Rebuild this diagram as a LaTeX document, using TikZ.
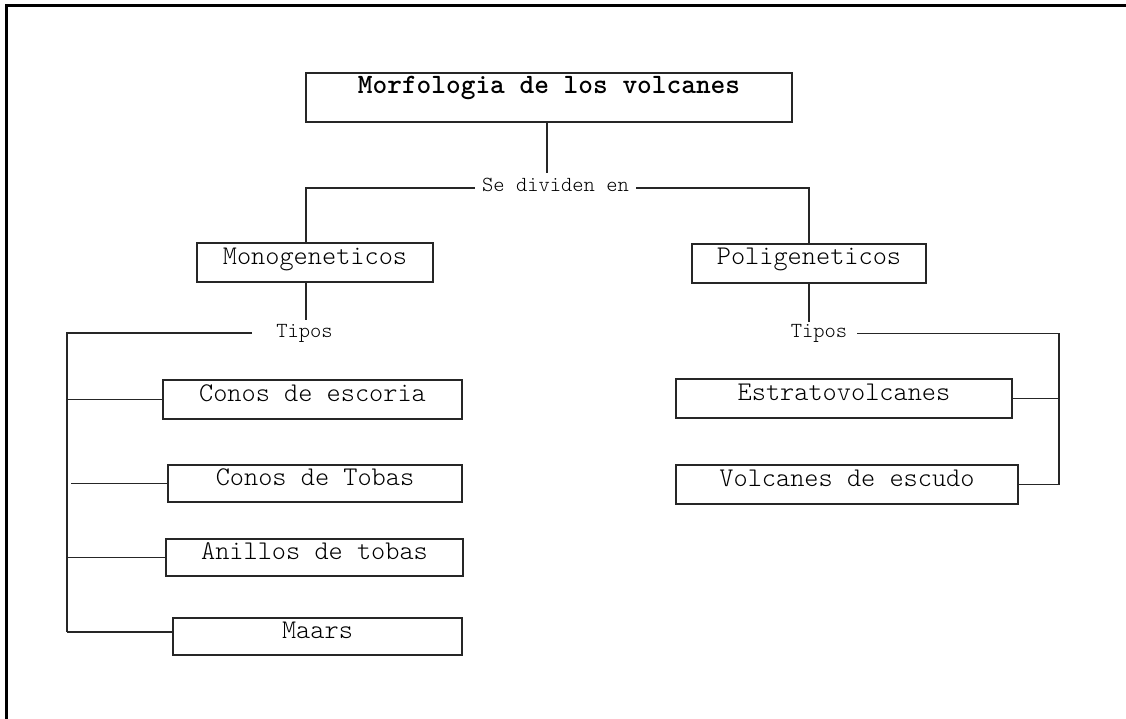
\documentclass[tikz,border=0pt]{standalone}
\usepackage{tikz}
\usetikzlibrary{calc}

\tikzset{
  caja/.style={draw=black!85, line width=1.5pt, inner sep=0pt,
    font=\ttfamily\fontseries{l}\fontsize{27}{29}\selectfont,
    text height=17pt, text depth=14pt},
  etiqueta/.style={inner xsep=7pt, inner ysep=0pt,
    font=\ttfamily\fontseries{l}\fontsize{21.5}{23}\selectfont,
    text height=8pt, text depth=0pt},
  linea/.style={black!85, line width=1.4pt}
}

\begin{document}
\begin{tikzpicture}[x=1pt,y=-1pt]
  \useasboundingbox (0,0) rectangle (1126,719);
  \draw[line width=3pt] (6.5,719) -- (6.5,5.5) -- (1126,5.5);%marking borders

  \node[caja, font=\ttfamily\bfseries\fontsize{28}{30}\selectfont,
    text height=17pt, text depth=24pt,
    minimum width=486pt, minimum height=49pt] (titulo) at (549,97.5) {Morfologia de los volcanes};
  \node[etiqueta] (divide) at (555.5,188) {Se dividen en};

  \node[caja, minimum width=236pt, minimum height=39pt] (mono) at (315,262.5) {Monogeneticos};
  \node[caja, minimum width=234pt, minimum height=39pt] (poli) at (809,263.5) {Poligeneticos};

  \coordinate (t1) at (547,173);
  \draw[linea] (titulo.south -| t1) -- (t1);
  \coordinate (sl) at (306,188);
  \draw[linea] (divide.west) -- (sl) -- (sl |- mono.north);
  \draw[linea] (divide.east) -| (poli.north);

  % monogeneticos
  \begin{scope}
    \node[etiqueta] (tiposA) at (304.5,333) {Tipos};
    \coordinate (m1) at (306,320);
    \draw[linea] (m1 |- mono.south) -- (m1);
    \foreach \name/\txt/\cx/\cy/\w/\h in {escoria/Conos de escoria/312.5/399.5/299/39,
        tobas/Conos de Tobas/315/483.5/294/37,
        anillos/Anillos de tobas/314.5/557.5/297/37,
        maars/Maars/317.5/636.5/289/37} {
        \node[caja, minimum width=\w pt, minimum height=\h pt] (\name) at (\cx,\cy) {\txt};
      }
    \coordinate (ejeA) at (67,333);
    \coordinate (finA) at (67,632);
    \draw[linea] ([xshift=-17pt]tiposA.west) -- (ejeA) -- (finA);
    \draw[linea] (ejeA |- escoria.west) -- (escoria.west);
    \draw[linea] ([xshift=4pt]ejeA |- tobas.west) -- (tobas.west);
    \draw[linea] (ejeA |- anillos.west) -- (anillos.west);
    \draw[linea] (finA) -- (finA -| maars.west);
  \end{scope}

  % poligeneticos
  \begin{scope}
    \node[etiqueta] (tiposB) at (819,333.5) {Tipos};
    \coordinate (p1) at (809,322);
    \draw[linea] (poli.south) -- (p1);
    \node[caja, minimum width=336pt, minimum height=39pt] (estrato) at (844,398.5) {Estratovolcanes};
    \node[caja, minimum width=342pt, minimum height=39pt] (escudo) at (847,484.5) {Volcanes de escudo};
    \coordinate (ejeB) at (1059,333.5);
    \draw[linea] ([xshift=3pt]tiposB.east) -- (ejeB) |- (escudo.east);
    \draw[linea] (estrato.east) -- (estrato.east -| ejeB);
  \end{scope}
\end{tikzpicture}
\end{document}
